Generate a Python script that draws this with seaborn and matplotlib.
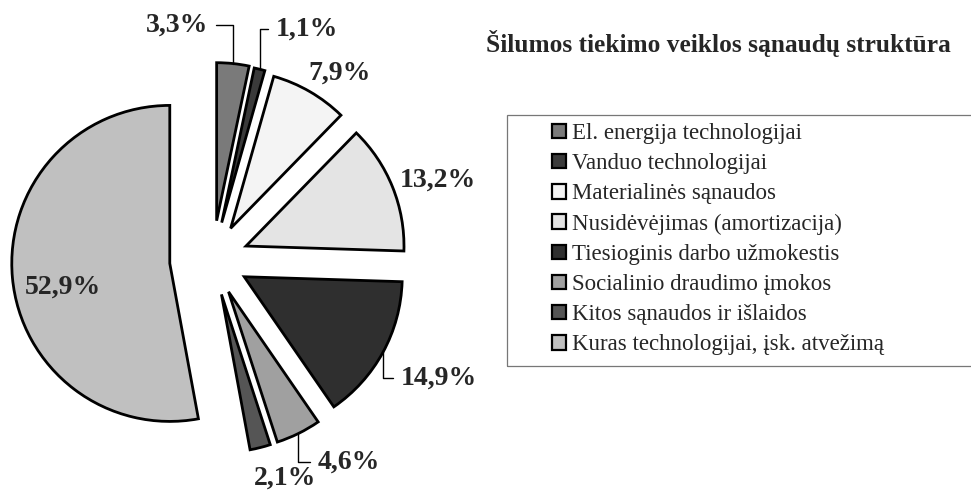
import numpy as np
import matplotlib
matplotlib.use("Agg")
import matplotlib.pyplot as plt
from matplotlib.patches import Rectangle
import seaborn as sns

sns.set_theme(style="white")
plt.rcParams["font.family"] = ["Liberation Serif", "DejaVu Serif"]

# ---------------------------------------------------------------------------
# data
# ---------------------------------------------------------------------------
categories = [
    "El. energija technologijai",
    "Vanduo technologijai",
    "Materialinės sąnaudos",
    "Nusidėvėjimas (amortizacija)",
    "Tiesioginis darbo užmokestis",
    "Socialinio draudimo įmokos",
    "Kitos sąnaudos ir išlaidos",
    "Kuras technologijai, įsk. atvežimą",
]
shares = [3.3, 1.1, 7.9, 13.2, 14.9, 4.6, 2.1, 52.9]
title = "Šilumos tiekimo veiklos sąnaudų struktūra"

# ---------------------------------------------------------------------------
# styling / layout (pixel coords, y from top)
# ---------------------------------------------------------------------------
W, H = 971, 491
grays = ["#7a7a7a", "#3a3a3a", "#f4f4f4", "#e4e4e4",
         "#2f2f2f", "#a0a0a0", "#555555", "#c0c0c0"]
explode = [39, 38, 36, 36, 36, 36, 36, 43]   # pixels
pie_center = (212.6, H - 259.5)
pie_radius = 158

# label text centres and whether a leader line is drawn
label_pos = [(177, 25), (307, 29), (340, 73), (438, 180),
             (439, 378), (349, 462), (285, 478), (63, 287)]
leader = [True, True, False, False, True, True, False, False]

fig = plt.figure(figsize=(W / 100, H / 100), dpi=100)
ax = fig.add_axes([0, 0, 1, 1])

wedges, _ = ax.pie(shares, colors=grays, explode=explode, startangle=90,
                   counterclock=False, center=pie_center, radius=pie_radius,
                   wedgeprops=dict(edgecolor="black", linewidth=2))

for w, v, (tx, ty), lead in zip(wedges, shares, label_pos, leader):
    txt = f"{v:.1f}".replace(".", ",") + "%"
    ty = H - ty
    if lead:
        mid = np.deg2rad((w.theta1 + w.theta2) / 2)
        cx, cy = w.center
        ax_x = cx + w.r * np.cos(mid)
        ax_y = cy + w.r * np.sin(mid)
        ax.annotate(txt, xy=(ax_x, ax_y), xytext=(tx, ty),
                    ha="center", va="center", fontsize=20, fontweight="bold",
                    arrowprops=dict(arrowstyle="-", color="black", lw=1,
                                    shrinkA=3, shrinkB=0,
                                    connectionstyle="angle,angleA=0,angleB=90,rad=0"))
    else:
        ax.text(tx, ty, txt, ha="center", va="center",
                fontsize=20, fontweight="bold")

ax.text(718, H - 43, title, ha="center", va="center",
        fontsize=18.3, fontweight="bold")

# legend with box that runs past the right edge
ax.add_patch(Rectangle((507, H - 366), 560, 251, fill=False,
                       edgecolor="#777777", linewidth=0.9, clip_on=False))
leg = ax.legend(wedges, categories, loc="upper left", frameon=False,
                bbox_to_anchor=(552 / W, 1 - 123 / H), borderaxespad=0,
                borderpad=0, fontsize=16.5, handlelength=0.6,
                handleheight=0.6, handletextpad=0.28, labelspacing=0.4)
for h in leg.legend_handles:
    h.set_linewidth(1.6)

ax.set_xlim(0, W)
ax.set_ylim(0, H)
ax.set_aspect("equal")
ax.axis("off")

fig.savefig("out.png", dpi=100, facecolor="white")
